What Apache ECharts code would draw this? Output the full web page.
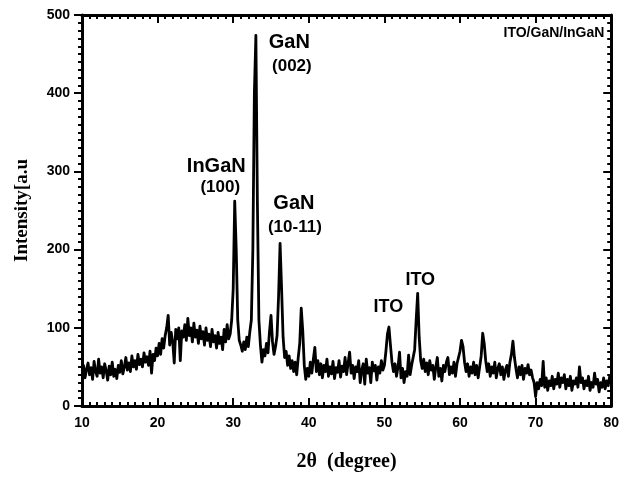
<!DOCTYPE html>
<html>
<head>
<meta charset="utf-8">
<script src="https://cdn.jsdelivr.net/npm/echarts@6/dist/echarts.min.js"></script>
<style>
  html, body { margin: 0; padding: 0; background: #fff; }
  #chart { width: 622px; height: 477px; }
</style>
</head>
<body>
<div id="chart"></div>
<script>
// XRD scan of an ITO/GaN/InGaN stack, sampled every 0.2 degree of 2-theta
const scanStart = 10;
const scanStep = 0.2;

const int10 = [38, 52, 36, 47, 55, 40, 49, 34, 57, 44,
               38, 60, 42, 50, 36, 54, 45, 33, 51, 40,
               56, 38, 47, 35, 52, 43, 58, 41, 50, 62,
               46, 55, 44, 64, 50, 58, 47, 66, 53, 60,
               50, 68, 56, 63, 52, 70, 42, 66, 58, 74];
const int20 = [64, 80, 66, 86, 74, 90, 100, 116, 78, 94,
               82, 55, 98, 86, 100, 58, 96, 88, 104, 84,
               112, 90, 100, 82, 106, 88, 97, 80, 102, 86,
               95, 78, 100, 84, 92, 76, 98, 82, 90, 74,
               94, 80, 88, 72, 98, 82, 104, 86, 92, 110];
const int30 = [150, 262, 200, 110, 84, 78, 70, 82, 72, 88,
               76, 95, 110, 200, 400, 474, 260, 110, 78, 56,
               72, 64, 80, 68, 95, 116, 82, 66, 76, 90,
               140, 208, 150, 88, 62, 70, 52, 64, 48, 58,
               44, 56, 40, 62, 80, 125, 96, 52, 34, 48];
const int40 = [38, 56, 42, 60, 75, 44, 58, 40, 54, 36,
               52, 44, 60, 38, 50, 41, 57, 35, 49, 43,
               58, 37, 51, 44, 62, 40, 55, 69, 42, 52,
               35, 50, 44, 58, 30, 46, 54, 28, 60, 42,
               49, 30, 56, 45, 52, 33, 50, 42, 58, 46];
const int50 = [52, 70, 92, 101, 78, 56, 44, 54, 38, 50,
               69, 36, 48, 30, 44, 38, 65, 40, 52, 62,
               72, 110, 144, 88, 58, 48, 60, 44, 55, 40,
               58, 46, 52, 34, 50, 62, 38, 48, 32, 52,
               44, 56, 62, 40, 50, 42, 56, 38, 54, 62];
const int60 = [70, 84, 76, 56, 44, 54, 38, 50, 42, 56,
               40, 52, 36, 50, 64, 93, 80, 58, 44, 54,
               38, 50, 42, 56, 36, 48, 54, 40, 50, 34,
               46, 52, 38, 56, 66, 83, 62, 48, 36, 50,
               40, 52, 34, 48, 42, 53, 40, 46, 36, 30];
const int70 = [12, 30, 22, 34, 26, 57, 24, 36, 20, 32,
               26, 38, 22, 34, 28, 42, 24, 36, 30, 40,
               22, 34, 26, 38, 20, 32, 28, 36, 24, 50,
               30, 36, 22, 32, 26, 38, 20, 30, 24, 42,
               28, 34, 18, 30, 24, 36, 22, 32, 26, 38,
               30];

// Peak annotations (text, 2-theta, intensity, font size)
const annoText = ['GaN', '(002)', 'InGaN', '(100)', 'GaN', '(10-11)', 'ITO', 'ITO'];
const annoX    = [37.43, 37.76, 27.76, 28.29, 38.03, 38.16, 50.53, 54.74];
const annoY    = [465, 434, 306, 280, 259, 229, 127, 161];
const annoSize = [20, 17, 20, 17, 20, 17, 18, 18];

const sampleTitle = 'ITO/GaN/InGaN';
const sampleTitlePos = [79.1, 477];

const xTicks = { min: 10, max: 80, interval: 10 };
const yTicks = { min: 0, max: 500, interval: 100 };

const intensity = [].concat(int10, int20, int30, int40, int50, int60, int70);
const scan = intensity.map((v, i) => [+(scanStart + i * scanStep).toFixed(2), v]);

const annoData = annoText.map((t, i) => ({
  name: t,
  value: [annoX[i], annoY[i]],
  label: { fontSize: annoSize[i] }
}));
annoData.push({
  name: sampleTitle,
  value: sampleTitlePos,
  label: { fontSize: 14, align: 'right' }
});

const sansFont = '"Liberation Sans", Arial, sans-serif';
const serifFont = '"Liberation Serif", "Times New Roman", serif';
const frameLine = { show: true, onZero: false, lineStyle: { color: '#000', width: 3 } };

const chart = echarts.init(document.getElementById('chart'), null, { renderer: 'canvas' });
chart.setOption({
  animation: false,
  backgroundColor: '#fff',
  grid: { left: 82, right: 7, top: 15, bottom: 65, containLabel: false },
  xAxis: [{
    type: 'value', min: xTicks.min, max: xTicks.max, interval: xTicks.interval,
    position: 'bottom',
    axisLine: frameLine,
    axisTick: { show: true, inside: true, length: 8, lineStyle: { color: '#000', width: 2 } },
    minorTick: { show: true, splitNumber: 10, length: 4, lineStyle: { color: '#000', width: 2 } },
    splitLine: { show: false },
    axisLabel: { color: '#000', fontFamily: sansFont, fontWeight: 'bold', fontSize: 14, margin: 10 },
    name: '2\u03b8  (degree)', nameLocation: 'middle', nameGap: 46,
    nameTextStyle: { color: '#000', fontFamily: serifFont, fontWeight: 'bold', fontSize: 20 }
  }, {
    type: 'value', min: xTicks.min, max: xTicks.max, interval: xTicks.interval,
    position: 'top',
    axisLine: frameLine,
    axisTick: { show: true, inside: true, length: 8, lineStyle: { color: '#000', width: 2 } },
    minorTick: { show: true, splitNumber: 10, length: 4, lineStyle: { color: '#000', width: 2 } },
    splitLine: { show: false },
    axisLabel: { show: false }
  }],
  yAxis: [{
    type: 'value', min: yTicks.min, max: yTicks.max, interval: yTicks.interval,
    position: 'left',
    axisLine: frameLine,
    axisTick: { show: true, inside: false, length: 8, lineStyle: { color: '#000', width: 2 } },
    minorTick: { show: true, splitNumber: 10, length: 4, lineStyle: { color: '#000', width: 2 } },
    splitLine: { show: false },
    axisLabel: { color: '#000', fontFamily: sansFont, fontWeight: 'bold', fontSize: 14, margin: 12 },
    name: 'Intensity[a.u', nameLocation: 'middle', nameGap: 50,
    nameTextStyle: { color: '#000', fontFamily: serifFont, fontWeight: 'bold', fontSize: 19 }
  }, {
    type: 'value', min: yTicks.min, max: yTicks.max, interval: yTicks.interval,
    position: 'right',
    axisLine: frameLine,
    axisTick: { show: true, inside: true, length: 8, lineStyle: { color: '#000', width: 2 } },
    minorTick: { show: true, splitNumber: 10, length: 4, lineStyle: { color: '#000', width: 2 } },
    splitLine: { show: false },
    axisLabel: { show: false }
  }],
  series: [{
    type: 'line',
    data: scan,
    xAxisIndex: 0, yAxisIndex: 0,
    showSymbol: false,
    smooth: false,
    lineStyle: { color: '#000', width: 2.8, join: 'round' },
    z: 3
  }, {
    type: 'scatter',
    data: annoData,
    xAxisIndex: 0, yAxisIndex: 0,
    symbolSize: 0,
    silent: true,
    z: 5,
    itemStyle: { opacity: 1 },
    label: {
      show: true,
      position: [0, 0],
      align: 'center',
      verticalAlign: 'middle',
      formatter: p => p.name,
      color: '#000',
      opacity: 1,
      textBorderWidth: 0,
      fontFamily: sansFont,
      fontWeight: 'bold'
    }
  }]
});
</script>
</body>
</html>
